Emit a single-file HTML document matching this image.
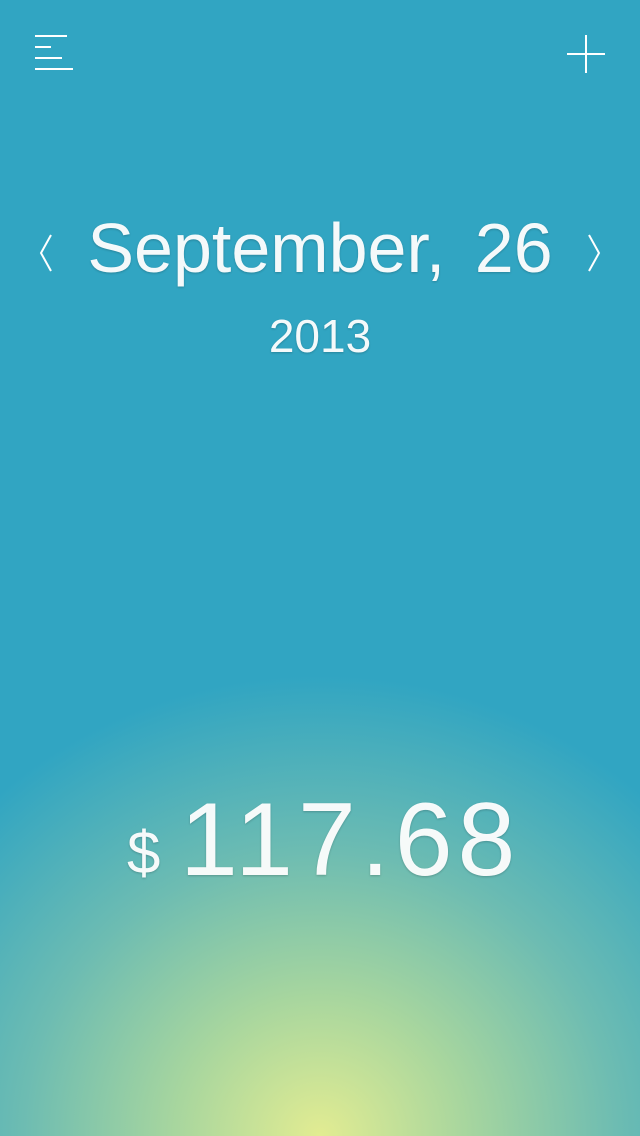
<!DOCTYPE html>
<html><head><meta charset="utf-8"><style>
html,body{margin:0;padding:0}
body{width:640px;height:1136px;overflow:hidden;position:relative;font-family:"Liberation Sans",sans-serif;color:#fff;
background:radial-gradient(ellipse 480px 460px at 320px 1136px,#e2ec92 0%,#a8d69e 30%,#6dbcb2 62%,#31a5c2 100%),#31a5c2;}
.ln{position:absolute;left:35px;height:2px;background:#fff}
.t{position:absolute;white-space:nowrap;font-weight:300;text-shadow:0 1px 2px rgba(0,0,0,0.2)}
</style></head><body>
<div>
<div class="ln" style="top:35px;width:32px"></div>
<div class="ln" style="top:46px;width:16px"></div>
<div class="ln" style="top:57px;width:27px"></div>
<div class="ln" style="top:68px;width:38px"></div>
</div>
<svg style="position:absolute;left:566px;top:34px" width="40" height="40"><path d="M20 1V39M1 20H39" stroke="#fff" stroke-width="2"/></svg>
<svg style="position:absolute;left:36px;top:232px" width="20" height="42"><path d="M15 3L5 21L15 39" stroke="#fff" stroke-width="2" fill="none"/></svg>
<svg style="position:absolute;left:584px;top:232px" width="20" height="42"><path d="M5 3L15 21L5 39" stroke="#fff" stroke-width="2" fill="none"/></svg>
<div class="t" style="left:0;width:640px;text-align:center;top:208px;font-size:70px;letter-spacing:0px;word-spacing:10px;color:rgba(255,255,255,0.95)">September, 26</div>
<div class="t" style="left:0;width:640px;text-align:center;top:309px;font-size:46px;color:rgba(255,255,255,0.95)">2013</div>
<div class="t" style="left:127px;top:818px;font-size:60px;color:rgba(255,255,255,0.95)">$</div>
<div class="t" style="left:180px;top:781px;font-size:104px;letter-spacing:5px;color:rgba(255,255,255,0.95)">117.68</div>
</body></html>
